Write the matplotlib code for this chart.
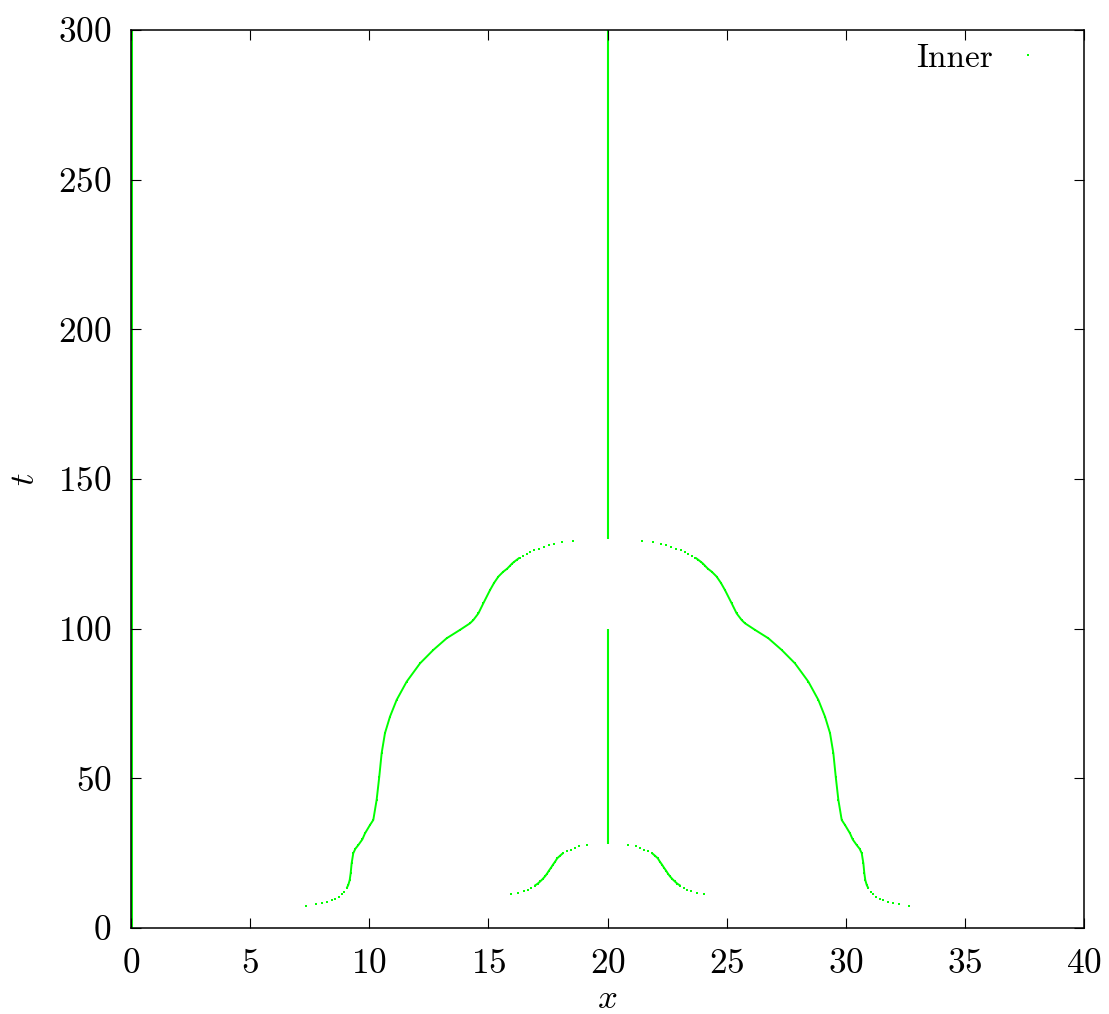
import matplotlib
matplotlib.use("Agg")
import matplotlib.pyplot as plt
from matplotlib.lines import Line2D

plt.rcParams.update({
    "font.family": "serif",
    "font.serif": ["cmr10"],
    "mathtext.fontset": "cm",
    "axes.formatter.use_mathtext": True,
})

GREEN = "#00ff00"

x_ticks = [0, 5, 10, 15, 20, 25, 30, 35, 40]
t_ticks = [0, 50, 100, 150, 200, 250, 300]

# Outer front: shared time samples, left and right branch positions
outer_t = [7.45, 7.92, 8.35, 8.79, 9.25, 9.79, 10.46, 11.26, 12.13, 13.26,
           14.37, 16.04, 18.28, 21.6, 25.0, 26.5, 27.7, 29.6, 31.6, 34.4,
           36.1, 42.8, 50.5, 58.4, 65.1, 70.6, 76.2, 82.3, 88.4, 92.9,
           96.8, 99.6, 101.8, 102.9, 105.1, 108.5, 112.9, 115.3, 117.4, 119.0,
           120.05, 120.95, 121.72, 122.39, 123.05, 123.72, 124.39, 125.06, 125.63, 126.19,
           126.73, 127.30, 127.86, 128.30, 128.87, 129.30]
outer_left_x = [7.35, 7.77, 8.03, 8.24, 8.42, 8.58, 8.72, 8.84, 8.95, 9.05,
                9.12, 9.18, 9.22, 9.26, 9.33, 9.42, 9.54, 9.71, 9.82, 10.03,
                10.17, 10.31, 10.42, 10.52, 10.66, 10.87, 11.15, 11.57, 12.13, 12.69,
                13.25, 13.81, 14.23, 14.37, 14.58, 14.79, 15.07, 15.24, 15.42, 15.62,
                15.79, 15.90, 15.99, 16.09, 16.20, 16.31, 16.45, 16.61, 16.76, 16.93,
                17.11, 17.32, 17.53, 17.77, 18.08, 18.54]
outer_right_x = [32.65, 32.23, 31.97, 31.76, 31.58, 31.42, 31.28, 31.16, 31.05, 30.95,
                 30.88, 30.82, 30.78, 30.74, 30.67, 30.58, 30.46, 30.29, 30.18, 29.97,
                 29.83, 29.69, 29.58, 29.48, 29.34, 29.13, 28.85, 28.43, 27.87, 27.31,
                 26.75, 26.19, 25.77, 25.63, 25.42, 25.21, 24.93, 24.76, 24.58, 24.38,
                 24.21, 24.10, 24.01, 23.91, 23.80, 23.69, 23.55, 23.39, 23.24, 23.07,
                 22.89, 22.68, 22.47, 22.23, 21.92, 21.46]

# Inner front
inner_t = [11.36, 11.79, 12.36, 12.80, 13.46, 14.13, 14.80, 15.60, 16.37, 17.27,
           18.14, 19.14, 20.15, 21.15, 22.15, 23.29, 24.16, 25.06, 25.73, 26.16,
           26.63, 27.30, 27.73]
inner_left_x = [15.95, 16.26, 16.48, 16.65, 16.80, 16.94, 17.07, 17.18, 17.28, 17.38,
                17.46, 17.54, 17.63, 17.71, 17.80, 17.89, 18.01, 18.14, 18.29, 18.46,
                18.62, 18.82, 19.15]
inner_right_x = [24.05, 23.74, 23.52, 23.35, 23.20, 23.06, 22.93, 22.82, 22.72, 22.62,
                 22.54, 22.46, 22.37, 22.29, 22.20, 22.11, 21.99, 21.86, 21.71, 21.54,
                 21.38, 21.18, 20.85]

# Stationary fronts: position, start time, end time
track_x = [0.0, 20.0, 20.0]
track_t0 = [0.0, 28.1, 129.9]
track_t1 = [300.0, 99.9, 300.0]
track_lw = [2.2, 1.5, 1.5]

# index ranges where consecutive samples merge into a solid curve
outer_solid = slice(9, 46)
inner_solid = slice(5, 18)

fig = plt.figure(figsize=(11.09, 10.14), dpi=100)
ax = fig.add_axes([131 / 1109, 1 - 928 / 1014, (1084 - 131) / 1109, (928 - 30) / 1014])

dot = dict(ls="none", marker="s", ms=1.7, mew=0, color=GREEN)
solid = dict(ls="-", lw=1.4, color=GREEN, solid_capstyle="butt")

for xs, ts, sl in [(outer_left_x, outer_t, outer_solid),
                   (outer_right_x, outer_t, outer_solid),
                   (inner_left_x, inner_t, inner_solid),
                   (inner_right_x, inner_t, inner_solid)]:
    ax.plot(xs, ts, **dot)
    ax.plot(xs[sl], ts[sl], **solid)

for xv, a, b, w in zip(track_x, track_t0, track_t1, track_lw):
    ax.plot([xv, xv], [a, b], color=GREEN, lw=w, solid_capstyle="butt", zorder=1.5)

ax.set_xlim(0, 40)
ax.set_ylim(0, 300)
ax.set_xticks(x_ticks)
ax.set_yticks(t_ticks)
ax.tick_params(direction="in", top=True, right=True, length=7.2, width=0.8,
               labelsize=25.5)
ax.tick_params(axis="x", pad=15)
ax.tick_params(axis="y", pad=14)
for s in ax.spines.values():
    s.set_linewidth(1.1)
    s.set_zorder(3)

ax.set_xlabel("$x$", fontsize=25, labelpad=2)
ax.set_ylabel("$t$", fontsize=25, labelpad=12, rotation=90)

handle = Line2D([], [], **dot)
ax.legend([handle], ["Inner"], loc="upper right", bbox_to_anchor=(1 - 9 / 953, 1.0),
          frameon=False, fontsize=24, markerfirst=False, handlelength=2.0,
          handletextpad=0.05, borderaxespad=0.05, borderpad=0.35)

fig.savefig("out.png", dpi=100)
